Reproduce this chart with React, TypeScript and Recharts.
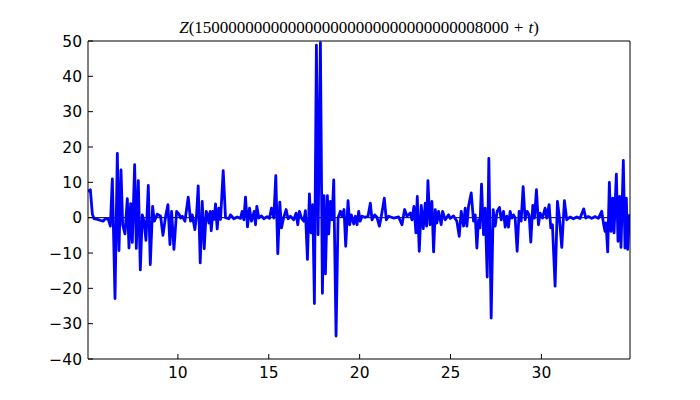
import React from "react";
import { LineChart, Line, XAxis, YAxis, ReferenceLine } from "recharts";

// t offsets (x) and Z values (y)
const tValues = [
  5.057, 5.185, 5.295, 5.387, 5.57, 5.753, 5.881, 6.028, 6.174, 6.284,
  6.394, 6.541, 6.669, 6.76, 6.87, 6.962, 7.09, 7.218, 7.31, 7.401,
  7.493, 7.621, 7.713, 7.823, 7.933, 8.042, 8.134, 8.244, 8.372, 8.482,
  8.61, 8.702, 8.867, 9.05, 9.178, 9.325, 9.453, 9.563, 9.654, 9.783,
  9.93, 10.06, 10.149, 10.24, 10.387, 10.57, 10.698, 10.79, 10.936, 11.028,
  11.119, 11.229, 11.339, 11.449, 11.559, 11.632, 11.706, 11.779, 11.834, 11.925,
  11.999, 12.072, 12.163, 12.255, 12.347, 12.493, 12.621, 12.804, 12.896, 13.079,
  13.262, 13.445, 13.537, 13.628, 13.72, 13.83, 13.94, 14.05, 14.196, 14.27,
  14.343, 14.453, 14.599, 14.727, 14.91, 15.039, 15.149, 15.277, 15.387, 15.497,
  15.607, 15.698, 15.826, 15.955, 16.064, 16.193, 16.376, 16.504, 16.596, 16.687,
  16.797, 16.925, 17.017, 17.127, 17.237, 17.328, 17.42, 17.511, 17.621, 17.713,
  17.841, 17.951, 18.042, 18.116, 18.226, 18.299, 18.39, 18.482, 18.574, 18.702,
  18.812, 18.94, 19.031, 19.141, 19.233, 19.361, 19.453, 19.544, 19.672, 19.764,
  19.856, 19.947, 20.03, 20.13, 20.313, 20.46, 20.588, 20.68, 20.826, 20.954,
  21.083, 21.193, 21.357, 21.467, 21.595, 21.87, 22.145, 22.328, 22.475, 22.603,
  22.786, 22.878, 22.987, 23.097, 23.171, 23.28, 23.39, 23.5, 23.61, 23.683,
  23.757, 23.867, 23.976, 24.068, 24.16, 24.251, 24.343, 24.489, 24.563, 24.709,
  24.892, 24.984, 25.167, 25.35, 25.478, 25.588, 25.716, 25.808, 25.9, 25.991,
  26.138, 26.266, 26.357, 26.449, 26.541, 26.614, 26.705, 26.815, 26.907, 27.017,
  27.108, 27.236, 27.346, 27.456, 27.566, 27.694, 27.786, 27.914, 28.006, 28.097,
  28.189, 28.28, 28.372, 28.463, 28.555, 28.665, 28.775, 28.885, 28.995, 29.105,
  29.214, 29.324, 29.416, 29.526, 29.618, 29.727, 29.837, 29.929, 30.057, 30.203,
  30.295, 30.423, 30.515, 30.606, 30.753, 30.881, 30.991, 31.119, 31.266, 31.394,
  31.577, 31.76, 31.943, 32.127, 32.328, 32.438, 32.584, 32.767, 32.951, 33.134,
  33.317, 33.427, 33.5, 33.555, 33.647, 33.738, 33.83, 33.921, 33.995, 34.123,
  34.214, 34.306, 34.379, 34.507, 34.599, 34.672, 34.745, 34.837, 34.874,
];

const zValues = [
  7.4, 7.9, 1.0, -0.3, -0.5, -0.8, -1.0, -0.2, -0.5, -2.4,
  11.0, -22.9, 18.2, -9.3, 13.5, -2.0, -4.6, 5.4, -8.6, 4.0,
  -7.0, 15.0, -8.7, 10.5, -14.8, 0.8, -1.0, -6.4, 9.1, -13.3,
  3.2, -1.0, 1.0, 0.4, -5.0, 0.4, 3.7, -7.6, 1.8, -9.0,
  1.8, 1.0, -0.1, 0.4, -1.0, 5.8, -1.0, 0.8, -3.4, 0.8,
  9.0, -12.8, 4.6, -8.8, 1.8, 0.8, -1.5, 1.8, -3.7, 1.8,
  -0.5, 3.9, -3.2, 2.7, -0.5, 13.3, 0.0, -0.3, 0.8, -0.3,
  0.2, -0.2, 1.8, -0.6, 5.8, -2.6, 2.7, -1.0, 1.8, -2.0,
  3.2, -0.1, 0.5, -0.3, 0.3, -0.2, 2.7, -0.1, 11.9, -10.2,
  4.4, -2.9, 0.1, 2.3, -0.3, 0.4, -0.6, 1.3, -2.0, 1.8,
  -0.1, -1.0, 2.0, -11.8, 6.7, -4.3, 3.7, -24.3, 48.8, -4.8,
  49.5, -21.4, 6.2, -15.9, 6.2, -4.6, 4.6, -0.6, 10.7, -33.5,
  -0.1, 1.8, 0.4, 2.3, -8.1, 4.8, -2.0, 0.8, -1.8, 0.4,
  -2.0, 1.8, -1.0, 0.4, 0.1, 0.4, 4.1, -0.6, 0.8, 0.1,
  -2.4, 0.4, 5.5, -0.6, 0.4, -0.1, 0.2, -2.0, 2.3, 0.4,
  1.3, -0.6, 3.2, -4.3, 6.0, -9.5, 3.5, -3.1, 4.1, -2.4,
  10.5, -2.0, 4.6, -9.7, 2.3, -1.5, 1.8, -2.0, 1.8, -0.6,
  0.8, -0.2, 0.5, -1.0, -5.3, 1.8, -2.4, 2.7, -2.4, 3.2,
  7.0, -1.0, 0.8, -8.6, -0.6, -2.9, 9.5, -4.8, 2.7, -16.8,
  16.8, -28.4, 2.3, -2.4, 1.8, 2.9, -0.6, 1.8, -2.7, 0.4,
  -2.7, 1.8, -0.1, 0.8, -0.1, -9.5, 1.8, -1.0, 8.8, -0.6,
  1.8, 0.8, -6.9, 3.5, -0.1, 7.9, -2.0, 1.3, -0.1, 2.7,
  -0.1, 3.7, -2.9, -2.0, -19.4, 4.6, -0.1, -8.4, 4.8, -0.6,
  0.2, -0.3, 0.2, -0.2, 2.5, -0.1, 0.3, -0.2, 0.3, -0.2,
  1.8, -2.0, -3.9, -1.5, -9.7, 10.0, -3.9, 5.5, -4.3, 12.3,
  -6.7, 6.0, -8.4, 16.2, -8.6, 5.5, -9.0, 0.3, 1.0,
];

const xTicks = [10, 15, 20, 25, 30];
const yTicks = [-40, -30, -20, -10, 0, 10, 20, 30, 40, 50];
const titleNumber = "15" + "0".repeat(31) + "8000";

const data = tValues.map((t, i) => ({ t, z: zValues[i] }));

const tickFont = { fontFamily: "DejaVu Sans", fontSize: 15.5, fill: "#000" };
const minus = (v: number) => String(v).replace("-", "\u2212");

const App = () => {
  return (
    <div style={{ position: "absolute", left: 0, top: 0, width: 700, height: 400, background: "#fff" }}>
      <div
        style={{
          position: "absolute",
          left: 88,
          width: 542,
          top: 18.5,
          textAlign: "center",
          fontFamily: "Liberation Serif",
          fontSize: 17,
          lineHeight: 1,
          whiteSpace: "nowrap",
        }}
      >
        <i>Z</i>({titleNumber}
        <span style={{ margin: "0 5px" }}>+</span>
        <i>t</i>)
      </div>
      <LineChart width={700} height={400} data={data} margin={{ top: 40, right: 69, bottom: 0, left: 0 }}>
        <XAxis
          xAxisId="b"
          dataKey="t"
          type="number"
          domain={[5.055, 34.874]}
          allowDataOverflow
          ticks={xTicks}
          height={41}
          tickSize={-5}
          tickMargin={13}
          tick={tickFont}
          stroke="#000"
        />
        <XAxis
          xAxisId="top"
          orientation="top"
          dataKey="t"
          type="number"
          domain={[5.055, 34.874]}
          allowDataOverflow
          ticks={xTicks}
          height={1}
          tickSize={-5}
          tick={false}
          stroke="#000"
        />
        <YAxis
          yAxisId="l"
          type="number"
          domain={[-40, 50]}
          allowDataOverflow
          ticks={yTicks}
          width={88}
          tickSize={-5}
          tickMargin={11}
          tick={tickFont}
          tickFormatter={minus}
          stroke="#000"
        />
        <YAxis
          yAxisId="r"
          orientation="right"
          type="number"
          domain={[-40, 50]}
          allowDataOverflow
          ticks={yTicks}
          width={1}
          tickSize={-5}
          tick={false}
          stroke="#000"
        />
        <ReferenceLine xAxisId="b" yAxisId="l" y={0} stroke="#000" strokeWidth={1} />
        <Line
          xAxisId="b"
          yAxisId="l"
          dataKey="z"
          stroke="#0000ff"
          strokeWidth={2.8}
          strokeLinejoin="round"
          dot={false}
          isAnimationActive={false}
        />
      </LineChart>
    </div>
  );
};

export default App;
